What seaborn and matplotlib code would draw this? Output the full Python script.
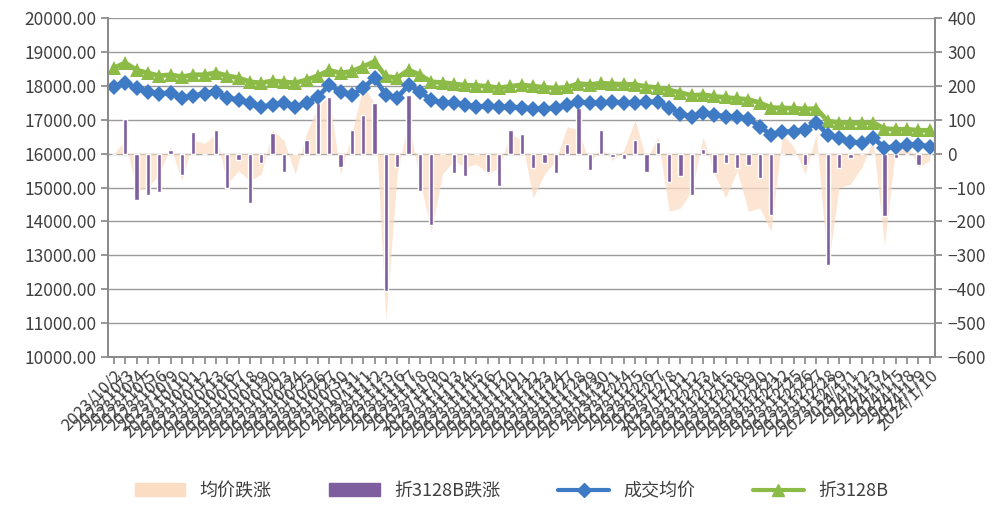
import seaborn as sns
import matplotlib.pyplot as plt
import matplotlib.ticker as mticker
from matplotlib.patches import Patch
from matplotlib.lines import Line2D
import pandas as pd

# dates on the x axis (trading days)
dates = pd.bdate_range(end="2024-01-10", periods=73)
date_labels = [f"{d.year}/{d.month}/{d.day}" for d in dates]

# 成交均价 (left axis)
avg_price = [17970, 18090, 17940, 17830, 17770, 17800, 17650, 17710, 17770, 17830,
             17650, 17590, 17500, 17380, 17440, 17500, 17380, 17500, 17680, 18030,
             17830, 17740, 17940, 18230, 17740, 17650, 18030, 17830, 17590, 17500,
             17500, 17440, 17380, 17410, 17380, 17380, 17360, 17330, 17330, 17360,
             17440, 17530, 17500, 17500, 17530, 17500, 17500, 17530, 17530, 17360,
             17180, 17090, 17200, 17150, 17090, 17090, 17030, 16800, 16560, 16650,
             16650, 16710, 16910, 16560, 16470, 16350, 16320, 16470, 16180, 16200,
             16270, 16270, 16200]

# 折3128B (left axis)
price_3128b = [18530, 18680, 18470, 18380, 18300, 18330, 18270, 18330, 18330, 18390,
               18300, 18240, 18120, 18090, 18150, 18120, 18090, 18180, 18300, 18460,
               18380, 18430, 18570, 18720, 18280, 18240, 18470, 18330, 18120, 18100,
               18060, 18020, 18010, 17990, 17940, 17990, 18030, 17990, 17960, 17930,
               17960, 18070, 18040, 18080, 18060, 18050, 18040, 17980, 17950, 17880,
               17800, 17720, 17740, 17690, 17660, 17630, 17600, 17500, 17360, 17350,
               17340, 17320, 17330, 16960, 16920, 16900, 16910, 16920, 16740, 16720,
               16720, 16690, 16690]

# 均价跌涨 (right axis, area)
avg_change = [0, 40, -110, -100, -60, 20, -80, 40, 30, 60,
              -90, -50, -80, -60, 70, 40, -60, 60, 140, 170,
              -60, 60, 200, 150, -490, -60, 100, -80, -230, -60,
              -20, -40, -30, -60, -40, 60, 40, -130, -60, -20,
              80, 70, -30, 20, -20, 10, 100, -20, 50, -170,
              -160, -110, 50, -60, -130, -50, -170, -160, -230, 60,
              20, -60, 60, -340, -100, -90, -40, 40, -270, 20,
              30, -40, -20]

# 折3128B跌涨 (right axis, bars)
change_3128b = [0, 103, -136, -121, -112, 10, -63, 65, 0, 71,
                -101, -20, -145, -28, 62, -53, 3, 40, 150, 168,
                -39, 71, 115, 150, -406, -38, 174, -111, -209, 0,
                -56, -67, 0, -53, -94, 70, 58, -42, -28, -57,
                28, 135, -47, 70, -10, -15, 40, -53, 36, -82,
                -67, -121, 15, -57, -28, -42, -32, -72, -180, 0,
                0, -32, 0, -328, -42, -14, 0, 0, -185, -13,
                0, -32, 0]

idx = list(range(len(date_labels)))

sns.set_theme(style="white")
plt.rcParams['font.family'] = ['Noto Sans CJK SC', 'DejaVu Sans']

peach = "#FBDDC4"
purple = "#7E5E9E"
blue = "#3F7AC4"
green = "#8DBB47"
txt = "#404040"

fig = plt.figure(figsize=(9.93, 5.05), dpi=100)
ax = fig.add_axes([0.109, 0.293, 0.833, 0.671])
ax2 = ax.twinx()

# right axis: area + bars
ax2.fill_between(idx, 0, avg_change, color=peach, alpha=0.75, lw=0)
sns.barplot(x=idx, y=change_3128b, ax=ax2, color=purple, width=0.38,
            saturation=1, native_scale=True)
ax2.set_ylim(-600, 400)
ax2.set_yticks(range(-600, 401, 100))
ax2.yaxis.grid(True, color="#9a9a9a", lw=1)
ax2.set_axisbelow(True)

# left axis: lines
sns.lineplot(x=idx, y=price_3128b, ax=ax, color=green, lw=3.5, marker="^",
             markersize=10, markeredgewidth=0)
sns.lineplot(x=idx, y=avg_price, ax=ax, color=blue, lw=3.5, marker="D",
             markersize=8, markeredgewidth=0)
ax.set_ylim(10000, 20000)
ax.set_yticks(range(10000, 20001, 1000))
ax.yaxis.set_major_formatter(mticker.FuncFormatter(lambda v, p: f"{v:.2f}"))
ax.set_zorder(ax2.get_zorder() + 1)
ax.patch.set_visible(False)

ax.set_xlim(-0.5, len(idx) - 0.5)
ax2.set_xlim(-0.5, len(idx) - 0.5)
ax.set_xticks(idx)
ax.set_xticklabels(date_labels, rotation=45, ha="right", rotation_mode="anchor",
                   fontsize=12, color=txt)
ax2.set_xlabel("")
ax.set_xlabel("")

for a in (ax, ax2):
    for s in ("left", "right", "bottom"):
        a.spines[s].set_color("#8a8a8a")
    a.spines["top"].set_visible(False)
ax.tick_params(axis="y", labelsize=12.5, labelcolor=txt, length=5, color="#8a8a8a", left=True)
ax.tick_params(axis="x", length=5, color="#8a8a8a", bottom=True, pad=2)
ax2.tick_params(axis="y", labelsize=12.5, labelcolor=txt, length=5, color="#8a8a8a", right=True)
ax2.tick_params(axis="x", bottom=False, labelbottom=False)

handles = [
    Patch(color=peach),
    Patch(color=purple),
    Line2D([], [], color=blue, lw=3, marker="D", markersize=7),
    Line2D([], [], color=green, lw=3, marker="^", markersize=9),
]
labels = ["均价跌涨", "折3128B跌涨", "成交均价", "折3128B"]
fig.legend(handles, labels, loc="lower center", bbox_to_anchor=(0.515, -0.022), ncol=4,
           frameon=False, fontsize=13, handlelength=2.8, columnspacing=3.2,
           labelcolor=txt)

fig.savefig("out.png", dpi=100)
